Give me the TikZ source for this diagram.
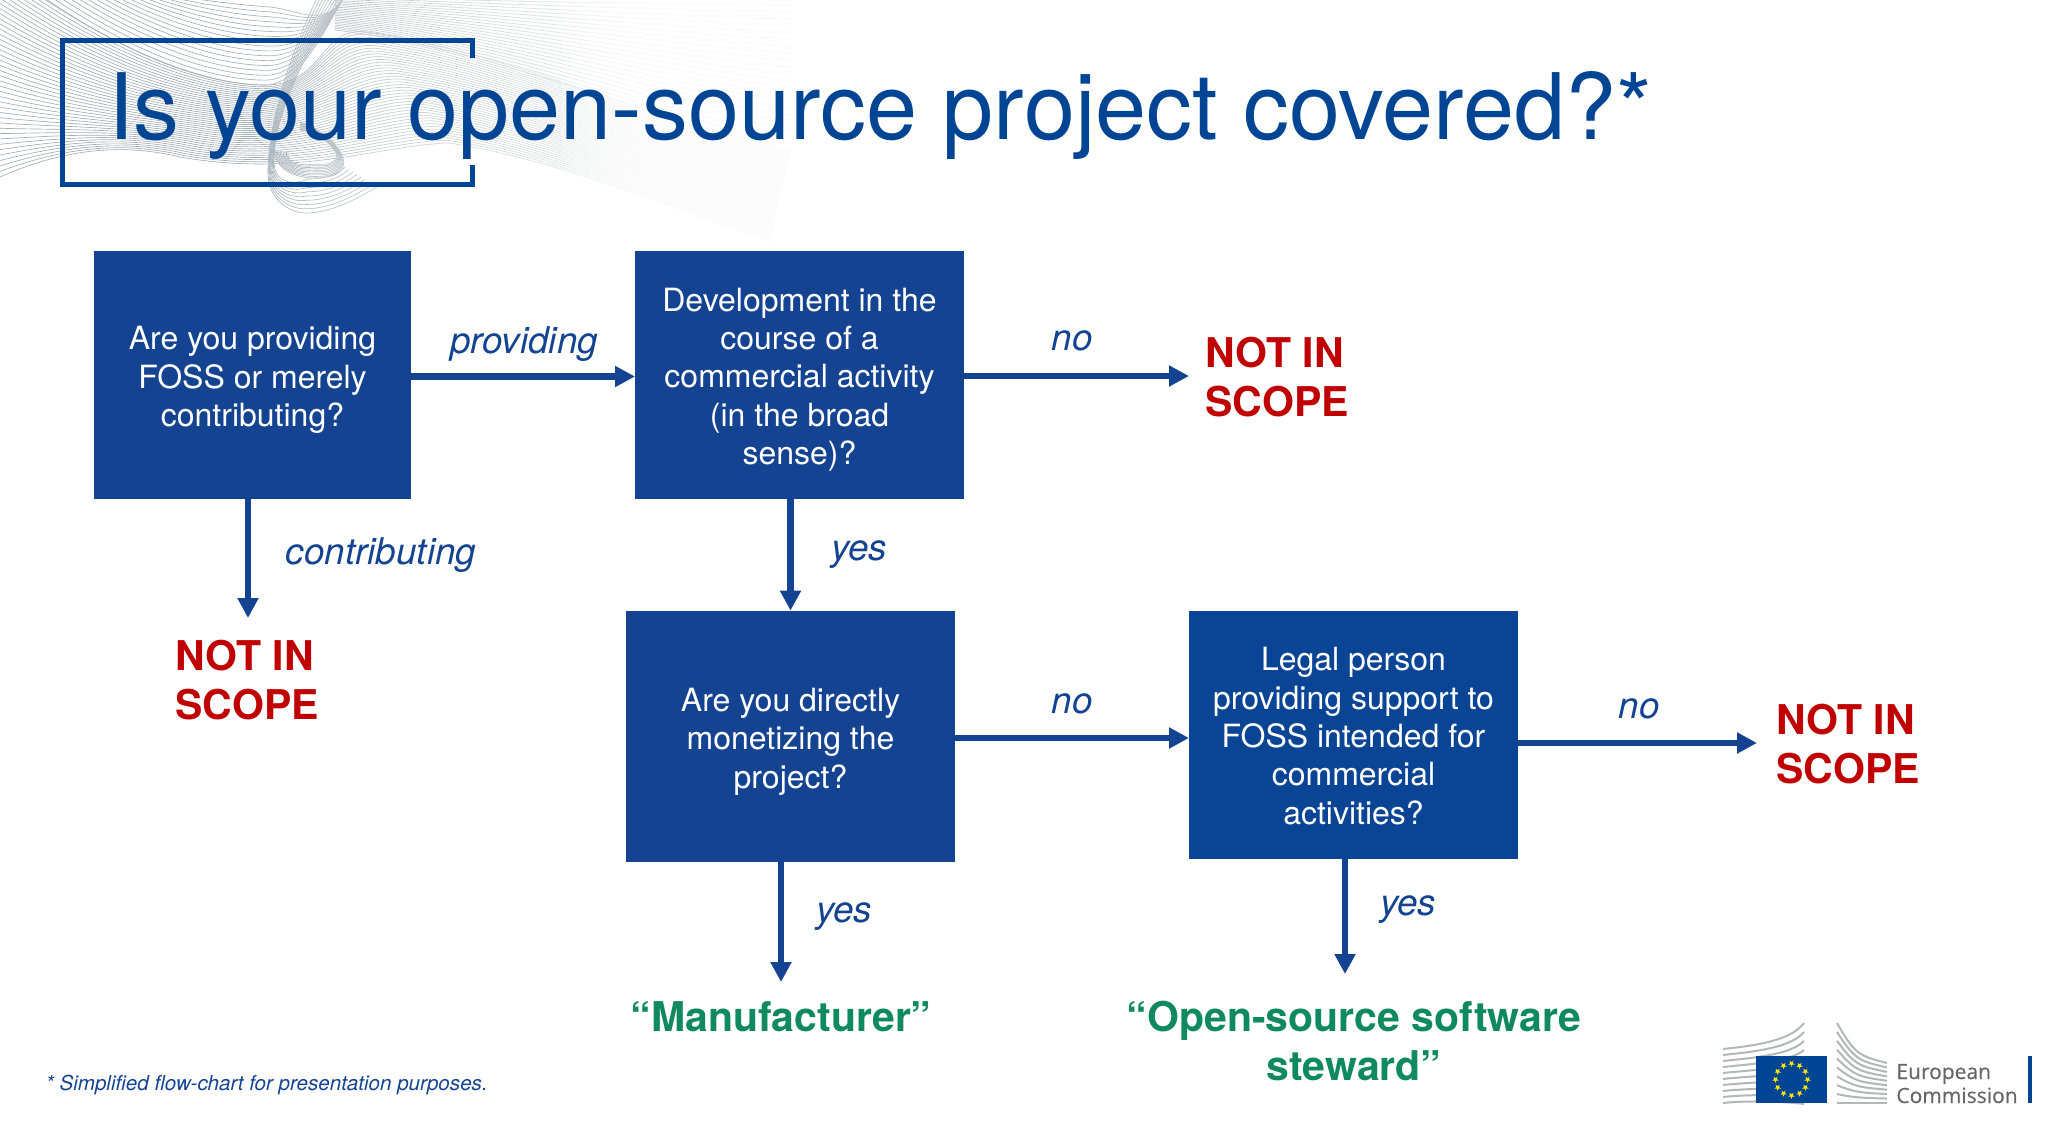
\documentclass[tikz,border=0pt]{standalone}
\usepackage{fontspec}
\setmainfont{TeX Gyre Heros}
\newfontfamily\logofont[FakeBold=0.35]{Open Sans}
\usetikzlibrary{arrows.meta,calc}
\definecolor{ecblue}{HTML}{134391}
\definecolor{ecblueb}{HTML}{0A4595}
\definecolor{titleblue}{HTML}{004494}
\definecolor{ecred}{HTML}{C00000}
\definecolor{ecgreen}{HTML}{0F8A5F}
\definecolor{wave}{HTML}{A2AEB6}
\definecolor{logogray}{HTML}{B4B6B8}
\newcommand{\qs}{\rule{0pt}{16.7pt}}
\newcommand{\qsb}{\rule{0pt}{12.8pt}}
\tikzset{
  qbox/.style={fill=ecblue,text=white,minimum width=#1,minimum height=124pt,inner sep=0pt,font=\fontsize{16}{19.2}\selectfont,align=center},
  qbox/.default=164.5pt,
  flow/.style={draw=ecblue,line width=3.25pt,-{Triangle[length=10pt,width=10pt]}},
  lab/.style={text=ecblue,font=\fontsize{18.4}{22}\selectfont\itshape,inner sep=0pt},
  nis/.style={text=ecred,font=\fontsize{20.5}{24.8}\selectfont\bfseries,inner sep=0pt,align=left},
  role/.style={text=ecgreen,font=\fontsize{20.5}{24.8}\selectfont\bfseries,inner sep=0pt,align=center},
  wv/.style={draw=wave,line width=0.33pt}
}
\begin{document}
\begin{tikzpicture}[x=0.5pt,y=-0.5pt]
\useasboundingbox (0,0) rectangle (2048,1123);
\begin{scope}
\clip (0,0) rectangle (800,240);
% main band
\foreach \i in {0,...,40}{
  \pgfmathsetmacro\t{\i/40}
  \draw[wv] ({-10+\t*10},{-40+\t*217})
    .. controls ({100-\t*50},{45+\t*110}) and ({200-\t*90},{85+\t*55}) .. ({265-\t*85},{85+\t*72})
    .. controls ({325-\t*25},{85+\t*93}) and ({320+\t*60},{25+\t*120}) .. ({367+\t*82},{32+\t*111})
    .. controls ({500+\t*60},{50+\t*110}) and ({650+\t*10},{120+\t*85}) .. ({790-\t*20},{150+\t*90});
}
% swoosh interior
\foreach \i in {0,...,16}{
  \pgfmathsetmacro\t{\i/16}
  \draw[wv] ({40+\t*130},-5)
    .. controls ({120+\t*80},{50-\t*50}) and ({200+\t*40},{85-\t*80}) .. ({265+\t*5},{85-\t*78})
    .. controls (300,{85-\t*75}) and (325,30) .. (345,-5);
}
% upper right
\foreach \i in {0,...,22}{
  \pgfmathsetmacro\t{\i/22}
  \draw[wv] (335,{30-\t*36})
    .. controls (500,{50-\t*50}) and (650,{120-\t*122}) .. (790,{150-\t*152});
}
% outer loops
\foreach \i in {0,...,8}{
  \pgfmathsetmacro\t{\i/8}
  \draw[wv] ({318+\t*26},-4)
    .. controls ({292+\t*20},{50-\t*10}) and ({268+\t*6},{120-\t*10}) .. ({268+\t*6},{173-\t*12})
    .. controls ({268+\t*6},{200-\t*15}) and ({290+\t*5},{213-\t*28}) .. ({306+\t*2},{213-\t*34})
    .. controls ({330},{213-\t*34}) and ({355-\t*15},{200-\t*28}) .. ({377-\t*32},{187-\t*20});
}
% inner teardrop
\foreach \i in {0,...,9}{
  \pgfmathsetmacro\t{\i/9}
  \draw[wv] ({274+\t*14},{150+\t*2})
    .. controls ({276+\t*10},{172-\t*8}) and ({298},{178-\t*12}) .. ({316},{178-\t*14})
    .. controls ({340-\t*8},{178-\t*12}) and ({346-\t*8},{168-\t*8}) .. ({343-\t*7},{158-\t*5})
    .. controls ({338-\t*8},{142}) and ({318},{128+\t*5}) .. ({300},{122+\t*8});
}
% fade to the right
\foreach \k in {0,...,24}{
  \fill[white,opacity=0.08] ({760-\k*21},0) rectangle (800,240);
}
\foreach \k in {0,...,16}{
  \fill[white,opacity=0.22] ({770-\k*13},0) rectangle (800,240);
}
\end{scope}
% title
\draw[titleblue,line width=2.6pt] (472.5,58) -- (472.5,40.5) -- (62.5,40.5) -- (62.5,184.5) -- (472.5,184.5) -- (472.5,165);
\node[anchor=base west,text=titleblue,font=\fontsize{45.9}{50}\selectfont,inner sep=0pt] (title) at (108,140) {Is your open-source project covered?*};
% boxes
\node[qbox=158.5pt] (b1) at (252.5,375) {\qs Are you providing\\FOSS or merely\\contributing?};
\node[qbox=164.5pt] (b2) at (799.5,374.5) {\qs Development in the\\course of a\\commercial activity\\(in the broad\\sense)?};
\node[qbox=164.5pt,minimum height=125.5pt] (b3) at (790.5,736.5) {\qs Are you directly\\monetizing the\\project?};
\node[qbox=164.5pt,fill=ecblueb] (b4) at (1353.5,735) {\qsb Legal person\\providing support to\\FOSS intended for\\commercial\\activities?};
% free ends
\coordinate (t1) at (248,618);
\coordinate (t2) at (781,982);
\coordinate (t3) at (1345,974);
\coordinate (t4) at (1757,743);
\coordinate (t5) at (1189,376);
\coordinate (t6) at (635,376.5);
\coordinate (t7) at (1189,738);
% connectors
\draw[flow] (b1.east |- t6) -- (t6);
\draw[flow] (b1.south -| t1) -- (t1);
\draw[flow] (b2.east |- t5) -- (t5);
\draw[flow] (b2.south -| b3.north) -- (b3.north);
\draw[flow] (b3.east |- t7) -- (t7);
\draw[flow] (b3.south -| t2) -- (t2);
\draw[flow] (b4.south -| t3) -- (t3);
\draw[flow] (b4.east |- t4) -- (t4);
% labels
\node[lab] (lprov) at (524,344) {providing};
\node[lab] (lcont) at (381,555) {contributing};
\node[lab] (lno1) at (1072,341) {no};
\node[lab] (lyes1) at (859,554.5) {yes};
\node[lab] (lno2) at (1072,704) {no};
\node[lab] (lyes2) at (844,916.5) {yes};
\node[lab] (lyes3) at (1408,910) {yes};
\node[lab] (lno3) at (1639,709) {no};
% outcomes
\node[nis,anchor=west] (n1) at (1205,377) {NOT IN\\SCOPE};
\node[nis,anchor=center] (n2) at (247,680) {NOT IN\\SCOPE};
\node[nis,anchor=west] (n3) at (1776,744) {NOT IN\\SCOPE};
\node[role] (r1) at (781,1017) {“Manufacturer”};
\node[role] (r2) at (1354,1041) {“Open-source software\\steward”};
\node[anchor=base west,text=ecblue,inner sep=0pt,font=\fontsize{10.3}{12}\selectfont\itshape] (foot) at (45.5,1090) {* Simplified flow-chart for presentation purposes.};
% logo
\foreach \i in {0,...,9}{
  \pgfmathsetmacro\t{\i/9}
  \draw[logogray,line width=1pt] (1723,{1049+\t*54}) .. controls (1750,{1046+\t*54}) and (1790,{1042+\t*60}) .. (1804,{1023+\t*81});
  \draw[logogray,line width=1pt] (1837,{1023+\t*80}) .. controls (1855,{1055+\t*48}) and (1860,{1056+\t*47}) .. (1887,{1063+\t*40});
}
\fill[titleblue] (1756,1056) rectangle (1827,1103);
\foreach \k in {0,...,11}{
  \begin{scope}[shift={({1791.5+16*cos(\k*30)},{1079.5+16*sin(\k*30)})}]
    \fill[yellow!90!orange] (90:3.4) -- (126:1.4) -- (162:3.4) -- (198:1.4) -- (234:3.4) -- (270:1.4) -- (306:3.4) -- (342:1.4) -- (18:3.4) -- (54:1.4) -- cycle;
  \end{scope}
}
\node[anchor=base west,text=black!60,inner sep=0pt,font=\logofont\fontsize{10.5}{12}\selectfont] (ec1) at (1896,1079) {European};
\node[anchor=base west,text=black!60,inner sep=0pt,font=\logofont\fontsize{10.5}{12}\selectfont] (ec2) at (1896,1103) {Commission};
\fill[titleblue] (2028,1056) rectangle (2032,1103);
\end{tikzpicture}
\end{document}
